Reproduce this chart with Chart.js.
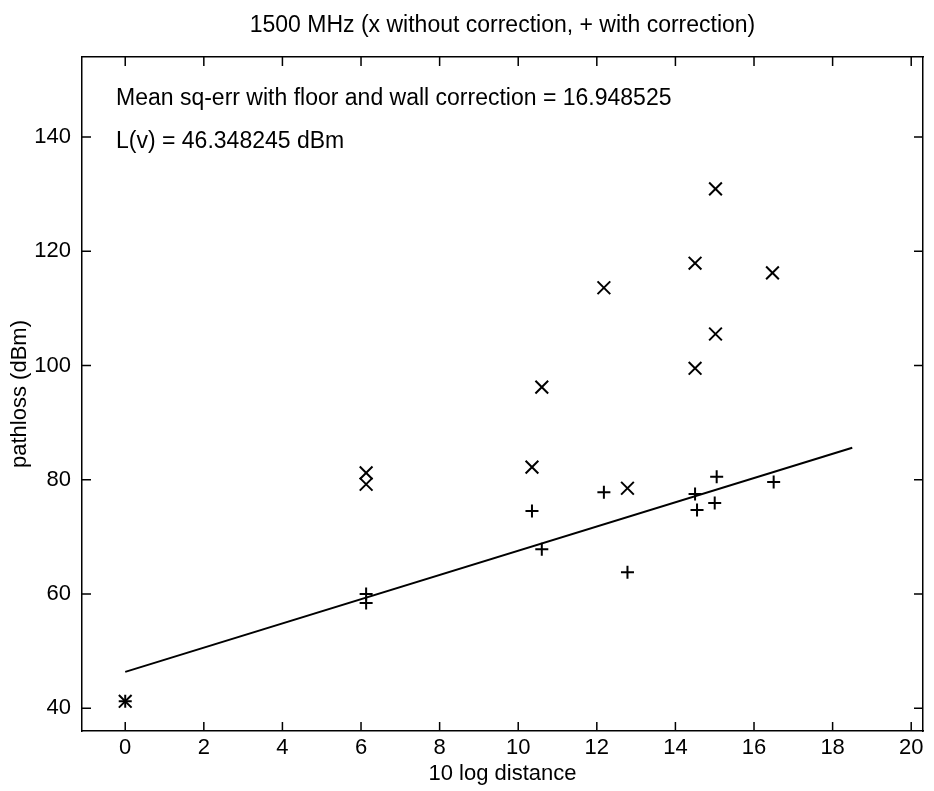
<!DOCTYPE html>
<html>
<head>
<meta charset="utf-8">
<script src="https://cdn.jsdelivr.net/npm/chart.js@4.4.1/dist/chart.umd.min.js"></script>
<style>
  html, body { margin: 0; padding: 0; background: #fff; }
  canvas { display: block; }
</style>
</head>
<body>
<canvas id="pathlossChart" width="934" height="791"></canvas>
<script>
// tick positions
const xTicks = [0, 2, 4, 6, 8, 10, 12, 14, 16, 18, 20];
const yTicks = [40, 60, 80, 100, 120, 140];

// x markers: without correction
const distNoCorr = [0, 6.13, 6.13, 10.35, 10.6, 12.18, 12.78, 14.5, 14.5, 15.02, 15.02, 16.47];
const lossNoCorr = [41.2, 81.2, 79.2, 82.2, 96.2, 113.6, 78.5, 117.9, 99.5, 130.9, 105.5, 116.2];

// + markers: with floor and wall correction
const distCorr = [0, 6.13, 6.13, 10.35, 10.6, 12.18, 12.78, 14.5, 14.55, 15.05, 15.0, 16.5];
const lossCorr = [41.2, 60.0, 58.4, 74.5, 67.8, 77.8, 63.8, 77.5, 74.7, 80.5, 75.9, 79.6];

// fitted line
const fitDist = [0, 18.5];
const fitLoss = [46.348245, 85.6];

const titleText = '1500 MHz (x without correction, + with correction)';
const notes = [
  'Mean sq-err with floor and wall correction = 16.948525',
  'L(v) = 46.348245 dBm'
];

const toPoints = (xs, ys) => xs.map((x, i) => ({ x: x, y: ys[i] }));

const FONT = '"Liberation Sans", Arial, sans-serif';
Chart.defaults.font.family = FONT;
Chart.defaults.color = '#000';

// matlab style ticks pointing into the box, on all four sides
const inwardTicks = {
  id: 'inwardTicks',
  afterDatasetsDraw(chart) {
    const { ctx, chartArea: a, scales: { x, y } } = chart;
    ctx.save();
    ctx.strokeStyle = '#000';
    ctx.lineWidth = 1.5;
    ctx.beginPath();
    xTicks.forEach(v => {
      const px = x.getPixelForValue(v);
      ctx.moveTo(px, a.bottom); ctx.lineTo(px, a.bottom - 9);
      ctx.moveTo(px, a.top); ctx.lineTo(px, a.top + 9);
    });
    yTicks.forEach(v => {
      const py = y.getPixelForValue(v);
      ctx.moveTo(a.left, py); ctx.lineTo(a.left + 9, py);
      ctx.moveTo(a.right, py); ctx.lineTo(a.right - 9, py);
    });
    ctx.stroke();
    ctx.restore();
  }
};

// title over the plot box + the two text lines inside it
const textNotes = {
  id: 'textNotes',
  afterDraw(chart) {
    const { ctx, chartArea: a } = chart;
    ctx.save();
    ctx.fillStyle = '#000';
    ctx.font = '23px ' + FONT;
    ctx.textBaseline = 'middle';
    ctx.textAlign = 'center';
    ctx.fillText(titleText, (a.left + a.right) / 2, 26);
    ctx.textAlign = 'left';
    ctx.fillText(notes[0], a.left + 34, a.top + 42);
    ctx.fillText(notes[1], a.left + 34, a.top + 85);
    ctx.restore();
  }
};

const ctx = document.getElementById('pathlossChart').getContext('2d');

new Chart(ctx, {
  type: 'scatter',
  data: {
    datasets: [
      {
        label: 'fit',
        data: toPoints(fitDist, fitLoss),
        showLine: true,
        borderColor: '#000',
        borderWidth: 2,
        pointRadius: 0,
        fill: false
      },
      {
        label: 'without correction',
        data: toPoints(distNoCorr, lossNoCorr),
        pointStyle: 'crossRot',
        pointRadius: 9,
        borderColor: '#000',
        borderWidth: 2
      },
      {
        label: 'with correction',
        data: toPoints(distCorr, lossCorr),
        pointStyle: 'cross',
        pointRadius: 6.5,
        borderColor: '#000',
        borderWidth: 2
      }
    ]
  },
  options: {
    responsive: false,
    animation: false,
    layout: { padding: { left: 0, right: 6, top: 57, bottom: 0 } },
    plugins: {
      legend: { display: false },
      tooltip: { enabled: false },
      title: { display: false }
    },
    scales: {
      x: {
        type: 'linear',
        position: 'bottom',
        min: -1.1,
        max: 20.3,
        afterBuildTicks: s => { s.ticks = xTicks.map(v => ({ value: v })); },
        afterFit: s => { s.height = 60; },
        grid: { display: false, drawTicks: false },
        border: { display: true, color: '#000', width: 1.5 },
        ticks: { font: { size: 22 }, padding: 4, maxRotation: 0 },
        title: { display: true, text: '10 log distance', font: { size: 22 }, padding: { top: 0, bottom: 4 } }
      },
      y: {
        type: 'linear',
        position: 'left',
        min: 36,
        max: 154,
        afterBuildTicks: s => { s.ticks = yTicks.map(v => ({ value: v })); },
        afterFit: s => { s.width = 82; },
        grid: { display: false, drawTicks: false },
        border: { display: true, color: '#000', width: 1.5 },
        ticks: { font: { size: 22 }, padding: 11 },
        title: { display: true, text: 'pathloss (dBm)', font: { size: 22 }, padding: { top: 7, bottom: 0 } }
      },
      x2: {
        type: 'linear',
        position: 'top',
        min: -1.1,
        max: 20.3,
        afterFit: s => { s.height = 0; },
        grid: { display: false, drawTicks: false },
        border: { display: true, color: '#000', width: 1.5 },
        ticks: { display: false }
      },
      y2: {
        type: 'linear',
        position: 'right',
        min: 36,
        max: 154,
        afterFit: s => { s.width = 0; },
        grid: { display: false, drawTicks: false },
        border: { display: true, color: '#000', width: 1.5 },
        ticks: { display: false }
      }
    }
  },
  plugins: [inwardTicks, textNotes]
});
</script>
</body>
</html>
